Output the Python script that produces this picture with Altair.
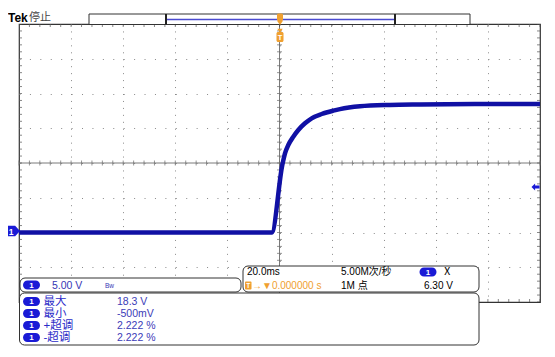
import altair as alt
import pandas as pd

time_ms = [-100, -2.99, 1.07, 2.11, 3.38, 5.30, 7.22, 9.79, 12.36, 16.20, 20.65,
           23.2, 30.9, 42.4, 53.9, 75, 100]
volts = [0.0, 0.0, 9.71, 11.40, 12.59, 13.78, 14.75, 15.71, 16.43, 17.05, 17.53,
         17.75, 18.15, 18.35, 18.42, 18.48, 18.5]

x_divs = [-80, -60, -40, -20, 0, 20, 40, 60, 80]      # 20 ms/div
y_divs = [-5, 0, 5, 10, 15, 20, 25]                    # 5 V/div
minor_t = [-100 + 4 * i for i in range(51)]
minor_v = [-10 + i for i in range(41)]

meas_labels = ["最大", "最小", "+超调", "-超调"]
meas_values = ["18.3 V", "-500mV", "2.222 %", "2.222 %"]
ch_scale = "5.00 V"
timebase = "20.0ms"
sample_rate = "5.00M次/秒"
record_len = "1M 点"
trig_pos = "→▼0.000000 s"
trig_level = "6.30 V"

# ---------------- layout helpers ----------------
W, H = 521, 278
OX, OY = 19, 24            # page position of the plot area
FONT = "Liberation Sans, Noto Sans CJK SC"
BLUE = "#1a1ad6"
ORANGE = "#f0a030"
dummy = pd.DataFrame({"d": [0]})


def px(x):
    return x - OX


def py(y):
    return y - OY


def box(x1, y1, x2, y2, fill="white", stroke="#333", sw=1, r=0):
    return alt.Chart(dummy).mark_rect(fill=fill, stroke=stroke, strokeWidth=sw,
                                      cornerRadius=r).encode(
        x=alt.value(px(x1)), x2=alt.value(px(x2)),
        y=alt.value(py(y1)), y2=alt.value(py(y2)))


def fillbox(x1, y1, x2, y2, color, r=0):
    return alt.Chart(dummy).mark_rect(fill=color, cornerRadius=r).encode(
        x=alt.value(px(x1)), x2=alt.value(px(x2)),
        y=alt.value(py(y1)), y2=alt.value(py(y2)))


def line(x1, y1, x2, y2, color="#333", sw=1):
    return alt.Chart(dummy).mark_rule(color=color, strokeWidth=sw).encode(
        x=alt.value(px(x1)), x2=alt.value(px(x2)),
        y=alt.value(py(y1)), y2=alt.value(py(y2)))


def txt(s, x, y, color="#000", size=10.5, align="left", weight="normal"):
    return alt.Chart(dummy).mark_text(text=s, align=align, baseline="middle",
                                      color=color, fontSize=size,
                                      fontWeight=weight, font=FONT).encode(
        x=alt.value(px(x)), y=alt.value(py(y)))


def symbol(path, x, y, size, color):
    return alt.Chart(dummy).mark_point(shape=path, size=size, filled=True,
                                       color=color, opacity=1).encode(
        x=alt.value(px(x)), y=alt.value(py(y)))


def badge(xc, yc):
    return [fillbox(xc - 8.5, yc - 4.5, xc + 8.5, yc + 4.5, BLUE, r=4.5),
            txt("1", xc, yc + 0.5, color="white", size=8, align="center", weight="bold")]


xs = alt.Scale(domain=[-100, 100], nice=False, zero=False)
ys = alt.Scale(domain=[-10, 30], nice=False, zero=False)

# ---------------- graticule ----------------
trace = alt.Chart(pd.DataFrame({"t": time_ms, "v": volts})).mark_line(
    color="#1010a4", strokeWidth=4.5, strokeJoin="round", interpolate="monotone").encode(
    x=alt.X("t:Q", scale=xs, axis=alt.Axis(values=x_divs, grid=True, gridDash=[1, 5.95],
                                             gridColor="#8a8a8a", labels=False, ticks=False,
                                             domain=False, title=None)),
    y=alt.Y("v:Q", scale=ys, axis=alt.Axis(values=y_divs, grid=True, gridDash=[1, 9.42],
                                             gridColor="#8a8a8a", labels=False, ticks=False,
                                             domain=False, title=None)))

vcenter = alt.Chart(dummy).mark_rule(color="#7a7a7a", strokeWidth=1).encode(x=alt.datum(0))
hcenter = alt.Chart(dummy).mark_rule(color="#7a7a7a", strokeWidth=1).encode(y=alt.datum(10))

tdf = pd.DataFrame({"t": minor_t})
vdf = pd.DataFrame({"v": minor_v})
hticks = alt.Chart(tdf).mark_tick(orient="vertical", size=5, thickness=1, color="#6a6a6a").encode(
    x="t:Q", y=alt.datum(10))
vticks = alt.Chart(vdf).mark_tick(orient="horizontal", size=5, thickness=1, color="#6a6a6a").encode(
    y="v:Q", x=alt.datum(0))
btop = alt.Chart(tdf).mark_tick(orient="vertical", size=6, thickness=1, color="#555", clip=True).encode(
    x="t:Q", y=alt.datum(30))
bbot = alt.Chart(tdf).mark_tick(orient="vertical", size=6, thickness=1, color="#555", clip=True).encode(
    x="t:Q", y=alt.datum(-10))
bleft = alt.Chart(vdf).mark_tick(orient="horizontal", size=6, thickness=1, color="#555", clip=True).encode(
    y="v:Q", x=alt.datum(-100))
bright = alt.Chart(vdf).mark_tick(orient="horizontal", size=6, thickness=1, color="#555", clip=True).encode(
    y="v:Q", x=alt.datum(100))

layers = [vcenter, hcenter, hticks, vticks, btop, bbot, bleft, bright, trace]

# ---------------- header ----------------
layers += [
    txt("Tek", 8, 17.5, color="#000", size=12, weight="bold"),
    txt("停止", 29, 17.5, color="#444", size=11),
    box(89, 14, 470, 24.5, stroke="#333"),
    line(167, 19.5, 394, 19.5, color="#4a4ad0", sw=1.5),
    line(166, 14, 166, 24.5, color="#222", sw=2),
    line(395, 14, 395, 24.5, color="#222", sw=2),
    fillbox(277, 13.5, 283, 21, ORANGE, r=1.5),
    symbol("M-1,-0.6L1,-0.6L0,0.8Z", 280, 22.5, 36, ORANGE),
    fillbox(276.5, 32, 283.5, 42, ORANGE, r=1.5),
    symbol("M-1,-0.6L1,-0.6L0,0.8Z", 280, 30.5, 30, ORANGE),
    txt("T", 280, 37.5, color="white", size=7.5, align="center", weight="bold"),
]

# ---------------- channel ground marker & trigger level marker ----------------
layers += [
    symbol("M-1,-0.7L0.35,-0.7L1,0L0.35,0.7L-1,0.7Z", 12.5, 231, 225, BLUE),
    txt("1", 11, 231.5, color="white", size=8.5, align="center", weight="bold"),
    symbol("M-1,0L-0.1,-0.9L-0.1,-0.35L1,-0.35L1,0.35L-0.1,0.35L-0.1,0.9Z", 535.5, 187, 64, BLUE),
]

# ---------------- channel box ----------------
layers += [box(20, 278, 241, 292, r=5)]
layers += badge(31.5, 285)
layers += [
    txt(ch_scale, 52, 285.5, color="#3535b5", size=10.5),
    txt("Bw", 105, 286, color="#3535b5", size=6.5),
]

# ---------------- timebase box ----------------
layers += [box(243, 266, 479, 292, r=5)]
layers += [
    txt(timebase, 247, 272, size=10),
    txt(sample_rate, 341, 272, size=10),
    txt("Ⅹ", 442, 272, size=10.5),
    fillbox(245, 281.5, 251.5, 289.5, ORANGE, r=1),
    txt("T", 248.2, 286, color="white", size=6.5, align="center", weight="bold"),
    txt(trig_pos, 252, 286, color=ORANGE, size=10),
    txt(record_len, 341, 286, size=10),
    txt(trig_level, 424, 286, size=10),
]
layers += badge(428, 272)

# ---------------- measurement box ----------------
layers += [box(19.5, 293, 479, 345, r=5)]
row_y = [301.5, 313.5, 325.5, 337.5]
for lab, val, yy in zip(meas_labels, meas_values, row_y):
    layers += badge(31.5, yy)
    layers += [txt(lab, 43.5, yy, color="#2b2bc8", size=11.5),
               txt(val, 117, yy, color="#3b3bb8", size=10.5)]

chart = alt.layer(*layers).properties(
    width=W, height=H,
    padding={"left": 11, "top": 16, "right": 5, "bottom": 44},
    autosize=alt.AutoSizeParams(type="none"),
    background="white",
).configure_view(stroke="#333", strokeWidth=1.2)

chart.save("out.html", embed_options={"renderer": "svg", "actions": False})
